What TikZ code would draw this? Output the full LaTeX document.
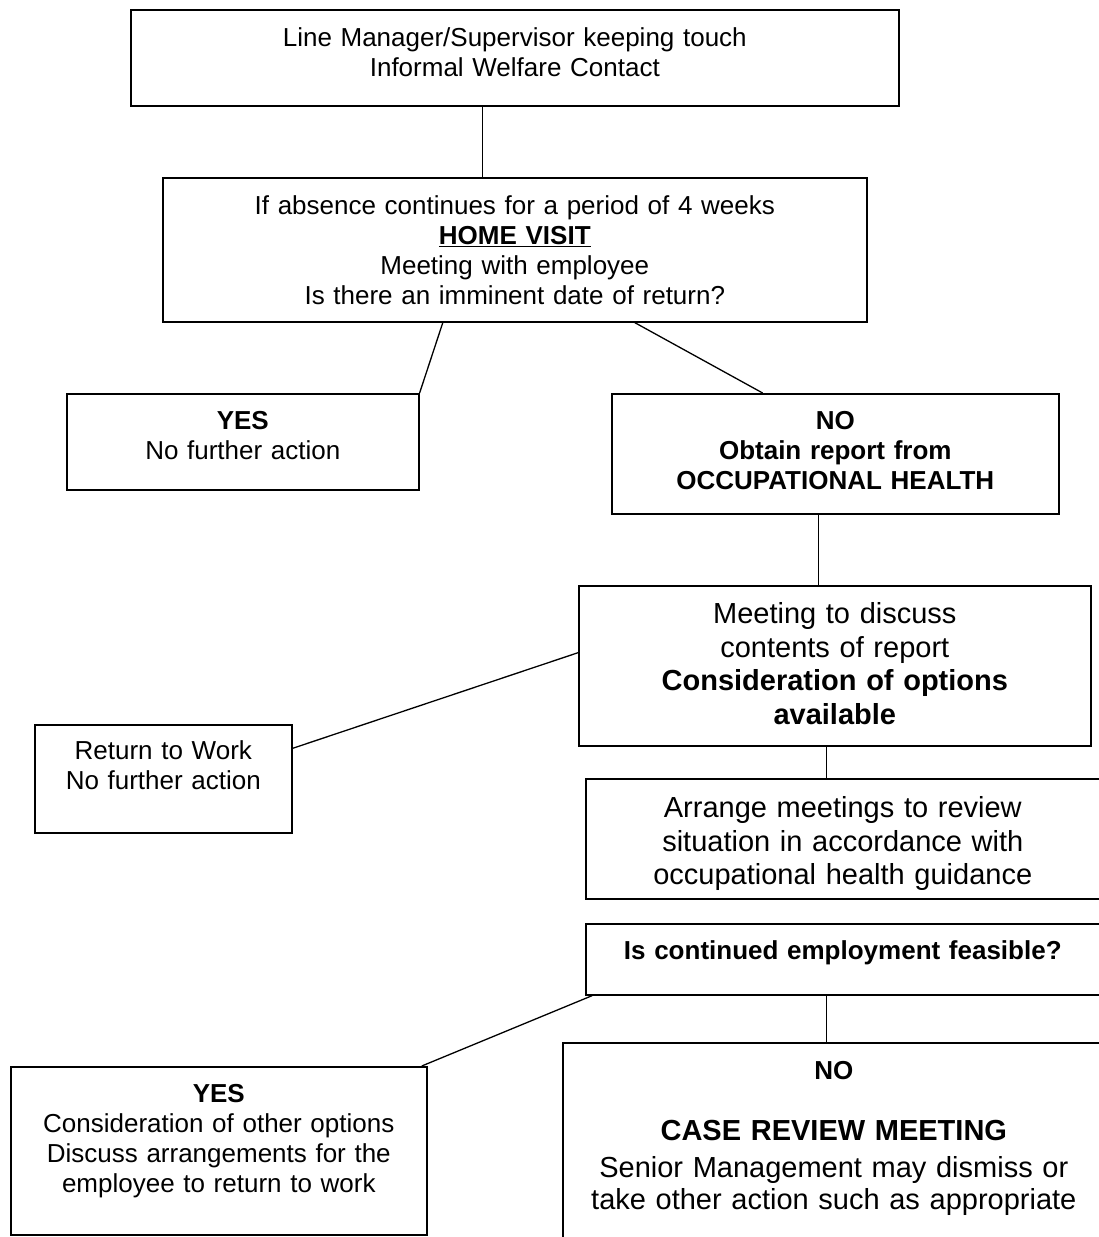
\documentclass[tikz,border=0pt]{standalone}
\usepackage{fontspec}
\setmainfont{Liberation Sans}
\usetikzlibrary{calc}

\begin{document}
\begin{tikzpicture}[
  x=1pt,y=-1pt,
  box/.style={draw,line width=1.6pt,anchor=north west,inner sep=0pt,align=center,font=\fontsize{26}{30}\selectfont},
  big/.style={font=\fontsize{29}{33.5}\selectfont},
  link/.style={line width=1.3pt}
]
  \useasboundingbox (0,0) rectangle (1098,1237);
  \node[box,text width=768pt,text height=37pt,text depth=59pt] (touch) at (130,9) {Line Manager/Supervisor keeping touch\\Informal Welfare Contact};
  \node[box,text width=704pt,text height=37pt,text depth=107pt] (visit) at (162,177) {If absence continues for a period of 4 weeks\\\underline{\textbf{HOME VISIT}}\\Meeting with employee\\Is there an imminent date of return?};
  \node[box,text width=352pt,text height=36pt,text depth=60pt] (yes1) at (66,393) {\textbf{YES}\\No further action};
  \node[box,text width=447pt,text height=36pt,text depth=84pt] (no1) at (611,393) {\textbf{NO}\\\textbf{Obtain report from}\\\textbf{OCCUPATIONAL HEALTH}};
  \node[box,big,text width=512pt,text height=38pt,text depth=122pt] (meet) at (578,585) {Meeting to discuss\\contents of report\\\textbf{Consideration of options}\\\textbf{available}};
  \node[box,text width=257pt,text height=35pt,text depth=73pt] (ret) at (34,724) {Return to Work\\No further action};
  \node[box,big,text width=514pt,text height=39pt,text depth=81pt] (arr) at (585,778) {Arrange meetings to review\\situation in accordance with\\occupational health guidance};
  \node[box,text width=514pt,text height=36pt,text depth=35pt] (feas) at (585,923) {\textbf{Is continued employment feasible?}};
  \node[box,text width=416pt,text height=36pt,text depth=132pt] (yes2) at (10,1066) {\textbf{YES}\\Consideration of other options\\Discuss arrangements for the\\employee to return to work};
  \node[box,text width=542pt,text height=37pt,text depth=171pt,font=\fontsize{29}{31.5}\selectfont] (no2) at (562,1042) {{\fontsize{26}{30}\selectfont\textbf{NO}}\\[29.5pt]\textbf{CASE REVIEW MEETING}\\[5.5pt]Senior Management may dismiss or\\take other action such as appropriate};

  \coordinate (a) at ($(touch.south west)!.458!(touch.south east)$);
  \coordinate (b) at ($(no1.south west)!.463!(no1.south east)$);
  \coordinate (c) at ($(meet.south west)!.484!(meet.south east)$);
  \coordinate (d) at ($(feas.south west)!.469!(feas.south east)$);
  \draw[link] (a) -- (a |- visit.north);
  \draw[link] ($(visit.south west)!.398!(visit.south east)$) -- (yes1.north east);
  \draw[link] ($(visit.south west)!.670!(visit.south east)$) -- ($(no1.north west)!.338!(no1.north east)$);
  \draw[link] (b) -- (b |- meet.north);
  \draw[link] ($(meet.north west)!.419!(meet.south west)$) -- ($(ret.north east)!.222!(ret.south east)$);
  \draw[link] (c) -- (c |- arr.north);
  \draw[link] ($(feas.south west)!.014!(feas.south east)$) -- ($(yes2.north west)!.986!(yes2.north east)$);
  \draw[link] (d) -- (d |- no2.north);
\end{tikzpicture}
\end{document}
